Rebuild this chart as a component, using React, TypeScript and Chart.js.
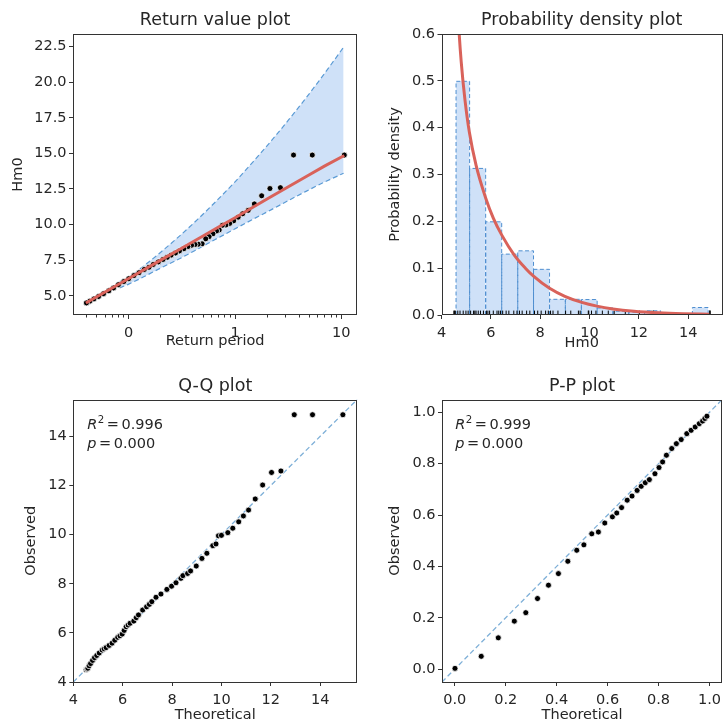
import React, { useEffect, useRef } from 'react';
import { Chart, registerables } from 'chart.js';

Chart.register(...registerables);

const FONT = "'DejaVu Sans', 'Liberation Sans', sans-serif";
const TEXT = '#262626';
const SPINE = '#333333';
const RED = '#d9625a';
const CI_FILL = '#cfe1f8';
const CI_LINE = '#5b9bd5';
const HIST_EDGE = '#4f8fd0';
const DIAG = '#7fb0d8';

// ---------- Return value plot ----------
const rvPointT = [10.66, 5.33, 3.55, 2.67, 2.13, 1.78, 1.52, 1.33, 1.18, 1.07, 0.97, 0.89, 0.82, 0.76, 0.71, 0.67, 0.62, 0.57, 0.53, 0.49, 0.45, 0.42, 0.39, 0.36, 0.33, 0.3, 0.275, 0.25, 0.23, 0.21, 0.19, 0.17, 0.155, 0.14, 0.125, 0.112, 0.1, 0.09, 0.08, 0.072, 0.065, 0.058, 0.052, 0.047, 0.043, 0.04];
const rvPointHm0 = [14.88, 14.88, 14.88, 12.59, 12.53, 12.02, 11.45, 11.0, 10.76, 10.52, 10.26, 10.08, 9.97, 9.95, 9.62, 9.55, 9.35, 9.15, 9.0, 8.65, 8.62, 8.6, 8.55, 8.45, 8.3, 8.15, 8.0, 7.85, 7.7, 7.55, 7.38, 7.2, 7.0, 6.85, 6.62, 6.42, 6.2, 6.0, 5.78, 5.55, 5.35, 5.15, 4.95, 4.78, 4.62, 4.5];
const rvFitT = [0.0395, 0.06, 0.1, 0.2, 0.3, 0.5, 0.7, 1.0, 1.5, 2.0, 3.0, 5.0, 7.0, 10.66];
const rvFitHm0 = [4.49, 5.27, 6.21, 7.5, 8.25, 9.2, 9.83, 10.48, 11.25, 11.8, 12.55, 13.5, 14.12, 14.85];
const rvCiT = [0.082, 0.1, 0.14, 0.2, 0.3, 0.45, 0.65, 1.0, 1.5, 2.2, 3.2, 4.7, 7.0, 10.5];
const rvCiUpper = [6.0, 6.3, 7.12, 8.06, 9.19, 10.4, 11.57, 13.0, 14.46, 15.89, 17.36, 18.93, 20.64, 22.45];
const rvCiLower = [5.55, 5.82, 6.35, 6.95, 7.6, 8.3, 8.95, 9.7, 10.4, 11.05, 11.7, 12.35, 13.0, 13.6];
const rvMajorTicks = [0.1, 1, 10];
const rvMajorLabels = ['0', '1', '10'];
const rvMinorTicks = [0.04, 0.05, 0.06, 0.07, 0.08, 0.09, 0.2, 0.3, 0.4, 0.5, 0.6, 0.7, 0.8, 0.9, 2, 3, 4, 5, 6, 7, 8, 9];
const rvYTicks = [5, 7.5, 10, 12.5, 15, 17.5, 20, 22.5];

// ---------- Probability density plot ----------
const histEdges = [4.59, 5.14, 5.79, 6.44, 7.09, 7.73, 8.38, 9.02, 9.67, 10.31, 10.95, 11.59, 12.23, 12.88, 13.52, 14.17, 14.81];
const histDensity = [0.499, 0.313, 0.199, 0.13, 0.137, 0.0975, 0.0335, 0.0335, 0.033, 0.015, 0.008, 0.006, 0.009, 0, 0, 0.016];
const pdfX = [4.55, 4.62, 4.7, 4.8, 4.95, 5.13, 5.4, 5.79, 6.1, 6.45, 6.95, 7.4, 7.73, 8.38, 9.0, 9.69, 10.3, 10.95, 11.8, 12.8, 13.8, 14.85];
const pdfY = [0.8, 0.7, 0.615, 0.54, 0.46, 0.39, 0.32, 0.25, 0.207, 0.17, 0.128, 0.1, 0.083, 0.057, 0.04, 0.027, 0.019, 0.013, 0.008, 0.0046, 0.0027, 0.0016];
const pdfXTicks = [4, 6, 8, 10, 12, 14];
const pdfYTicks = [0, 0.1, 0.2, 0.3, 0.4, 0.5, 0.6];

// ---------- Q-Q plot ----------
const qqTheoretical = [4.52, 4.56, 4.59, 4.64, 4.7, 4.78, 4.86, 4.95, 5.05, 5.17, 5.25, 5.33, 5.45, 5.57, 5.68, 5.8, 5.89, 5.98, 6.06, 6.14, 6.22, 6.3, 6.45, 6.55, 6.64, 6.81, 6.97, 7.08, 7.18, 7.35, 7.55, 7.79, 7.98, 8.16, 8.36, 8.44, 8.63, 8.75, 8.98, 9.21, 9.41, 9.65, 9.78, 9.88, 10.0, 10.26, 10.46, 10.7, 10.89, 11.1, 11.37, 11.67, 12.03, 12.41, 12.95, 13.69, 14.92];
const qqObserved = [4.5, 4.53, 4.56, 4.66, 4.75, 4.88, 4.99, 5.08, 5.18, 5.3, 5.35, 5.4, 5.49, 5.58, 5.7, 5.82, 5.88, 5.95, 6.1, 6.25, 6.32, 6.39, 6.48, 6.62, 6.73, 6.93, 7.06, 7.16, 7.27, 7.45, 7.58, 7.77, 7.9, 8.04, 8.22, 8.33, 8.42, 8.52, 8.72, 9.03, 9.24, 9.55, 9.62, 9.95, 9.97, 10.08, 10.26, 10.52, 10.76, 11.0, 11.45, 12.02, 12.53, 12.59, 14.88, 14.88, 14.88];
const qqTicks = [4, 6, 8, 10, 12, 14];
const qqR2 = '0.996';
const qqP = '0.000';

// ---------- P-P plot ----------
const ppTheoretical = [0.001, 0.104, 0.171, 0.234, 0.279, 0.325, 0.368, 0.407, 0.444, 0.479, 0.507, 0.538, 0.564, 0.589, 0.619, 0.636, 0.655, 0.677, 0.696, 0.716, 0.732, 0.748, 0.764, 0.786, 0.802, 0.816, 0.831, 0.852, 0.87, 0.889, 0.911, 0.928, 0.944, 0.96, 0.973, 0.982, 0.99];
const ppObserved = [0.003, 0.05, 0.122, 0.187, 0.22, 0.275, 0.327, 0.372, 0.42, 0.463, 0.484, 0.527, 0.534, 0.569, 0.593, 0.608, 0.629, 0.658, 0.674, 0.696, 0.712, 0.726, 0.738, 0.761, 0.785, 0.807, 0.833, 0.859, 0.878, 0.894, 0.917, 0.93, 0.943, 0.956, 0.966, 0.976, 0.985];
const ppTicks = [0, 0.2, 0.4, 0.6, 0.8, 1.0];
const ppR2 = '0.999';
const ppP = '0.000';

const tickFont = { family: FONT, size: 14.5 };
const labelFont = { family: FONT, size: 14.5 };

const framePlugin = {
  id: 'frame',
  afterDatasetsDraw(chart: any) {
    const { ctx, chartArea: a } = chart;
    ctx.save();
    ctx.strokeStyle = SPINE;
    ctx.lineWidth = 1;
    ctx.strokeRect(Math.round(a.left) + 0.5, Math.round(a.top) + 0.5, Math.round(a.right - a.left) - 1, Math.round(a.bottom - a.top) - 1);
    ctx.restore();
  },
};

const statPlugin = {
  id: 'statText',
  afterDatasetsDraw(chart: any, _args: any, opts: any) {
    if (!opts || !opts.r2) return;
    const { ctx, chartArea: a } = chart;
    const x0 = a.left + opts.dx;
    const y1 = a.top + opts.dy1;
    const y2 = a.top + opts.dy2;
    const big = `14.5px ${FONT}`;
    const ital = `italic 14.5px ${FONT}`;
    ctx.save();
    ctx.fillStyle = TEXT;
    ctx.textBaseline = 'alphabetic';
    ctx.textAlign = 'left';
    ctx.font = ital;
    ctx.fillText('R', x0, y1);
    let x = x0 + ctx.measureText('R').width + 0.5;
    ctx.font = `10.2px ${FONT}`;
    ctx.fillText('2', x, y1 - 6);
    x += ctx.measureText('2').width + 2.5;
    ctx.font = big;
    ctx.fillText('=', x, y1);
    x += ctx.measureText('=').width + 2.5;
    ctx.fillText(opts.r2, x, y1);
    ctx.font = ital;
    ctx.fillText('p', x0, y2);
    x = x0 + ctx.measureText('p').width + 2.5;
    ctx.font = big;
    ctx.fillText('=', x, y2);
    x += ctx.measureText('=').width + 2.5;
    ctx.fillText(opts.p, x, y2);
    ctx.restore();
  },
};

function xAxis(c: any) {
  return {
    type: c.type || 'linear',
    position: 'bottom',
    min: c.min,
    max: c.max,
    afterBuildTicks: (s: any) => {
      s.ticks = c.ticks.map((v: number) => ({ value: v }));
    },
    afterFit: (s: any) => {
      s.height = c.height;
      s.paddingLeft = 0;
      s.paddingRight = 0;
    },
    grid: {
      drawOnChartArea: false,
      drawTicks: true,
      tickLength: 4,
      tickColor: SPINE,
      tickWidth: 1,
      tickBorderDash: c.tickDash || [],
    },
    border: { display: false },
    ticks: {
      font: tickFont,
      color: TEXT,
      padding: 6,
      autoSkip: false,
      maxRotation: 0,
      minRotation: 0,
      callback: (v: number) => c.label(v),
    },
    title: { display: true, text: c.title, font: labelFont, color: TEXT, padding: { top: 0, bottom: c.titlePad } },
  };
}

function yAxis(c: any) {
  return {
    type: 'linear',
    position: 'left',
    min: c.min,
    max: c.max,
    afterBuildTicks: (s: any) => {
      s.ticks = c.ticks.map((v: number) => ({ value: v }));
    },
    afterFit: (s: any) => {
      s.width = c.width;
      s.paddingTop = 0;
      s.paddingBottom = 0;
    },
    grid: { drawOnChartArea: false, drawTicks: true, tickLength: 4, tickColor: SPINE, tickWidth: 1 },
    border: { display: false },
    ticks: {
      font: tickFont,
      color: TEXT,
      padding: 2.5,
      autoSkip: false,
      callback: (v: number) => c.label(v),
    },
    title: { display: true, text: c.title, font: labelFont, color: TEXT, padding: { top: c.titlePad, bottom: 0 } },
  };
}

function baseOptions(title: string, titlePad: { top: number; bottom: number }, padRight: number, scales: any, stat?: any) {
  return {
    responsive: false,
    animation: false,
    events: [],
    layout: { padding: { left: 0, top: 0, right: padRight, bottom: 0 } },
    plugins: {
      legend: { display: false },
      tooltip: { enabled: false },
      filler: { propagate: false, drawTime: 'beforeDatasetsDraw' },
      title: {
        display: true,
        text: title,
        fullSize: false,
        color: TEXT,
        font: { family: FONT, size: 17.5, weight: 'normal' },
        padding: titlePad,
      },
      statText: stat || {},
    },
    scales,
  };
}

const dotStyle = {
  pointRadius: 3,
  pointBackgroundColor: '#000000',
  pointBorderColor: '#ffffff',
  pointBorderWidth: 0.8,
};

function buildReturnChart(): any {
  const isMajor = (v: number) => rvMajorTicks.some((m) => Math.abs(m - v) < 1e-9);
  return {
    type: 'scatter',
    data: {
      datasets: [
        {
          type: 'line',
          data: rvFitT.map((t, i) => ({ x: t, y: rvFitHm0[i] })),
          borderColor: RED,
          borderWidth: 3,
          pointRadius: 0,
          tension: 0,
          fill: false,
          order: 0,
        },
        {
          type: 'scatter',
          data: rvPointT.map((t, i) => ({ x: t, y: rvPointHm0[i] })),
          ...dotStyle,
          order: 1,
        },
        {
          type: 'line',
          data: rvCiT.map((t, i) => ({ x: t, y: rvCiUpper[i] })),
          borderColor: CI_LINE,
          borderWidth: 1.2,
          borderDash: [5, 3],
          pointRadius: 0,
          cubicInterpolationMode: 'monotone',
          fill: '+1',
          backgroundColor: CI_FILL,
          order: 2,
        },
        {
          type: 'line',
          data: rvCiT.map((t, i) => ({ x: t, y: rvCiLower[i] })),
          borderColor: CI_LINE,
          borderWidth: 1.2,
          borderDash: [5, 3],
          pointRadius: 0,
          cubicInterpolationMode: 'monotone',
          fill: false,
          order: 3,
        },
      ],
    },
    options: baseOptions('Return value plot', { top: 9.5, bottom: 3.5 }, 4, {
      x: xAxis({
        type: 'logarithmic',
        min: 0.0299,
        max: 14.1,
        ticks: [...rvMinorTicks, ...rvMajorTicks].sort((a, b) => a - b),
        label: (v: number) => {
          const i = rvMajorTicks.findIndex((m) => Math.abs(m - v) < 1e-9);
          return i >= 0 ? rvMajorLabels[i] : '';
        },
        tickDash: (ctx: any) => (ctx.tick && isMajor(ctx.tick.value) ? [] : [2.5, 20]),
        title: 'Return period',
        titlePad: 12.6,
        height: 48,
      }),
      y: yAxis({
        min: 3.65,
        max: 23.38,
        ticks: rvYTicks,
        label: (v: number) => v.toFixed(1),
        title: 'Hm0',
        titlePad: 9.3,
        width: 73,
      }),
    }),
    plugins: [framePlugin],
  };
}

function buildPdfChart(): any {
  const bars = histDensity
    .map((h, i) => ({ h, i }))
    .filter((b) => b.h > 0)
    .map(({ h, i }) => ({
      type: 'line',
      data: [
        { x: histEdges[i], y: 0 },
        { x: histEdges[i], y: h },
        { x: histEdges[i + 1], y: h },
        { x: histEdges[i + 1], y: 0 },
      ],
      borderColor: HIST_EDGE,
      borderWidth: 1,
      borderDash: [4, 2.5],
      backgroundColor: CI_FILL,
      fill: 'origin',
      pointRadius: 0,
      tension: 0,
      order: 5 + i,
    }));
  return {
    type: 'scatter',
    data: {
      datasets: [
        {
          type: 'line',
          data: pdfX.map((x, i) => ({ x, y: pdfY[i] })),
          borderColor: RED,
          borderWidth: 3,
          pointRadius: 0,
          cubicInterpolationMode: 'monotone',
          fill: false,
          order: 0,
        },
        {
          type: 'scatter',
          data: qqObserved.map((v) => ({ x: v, y: 0.0047 })),
          pointStyle: 'line',
          rotation: 90,
          pointRadius: 2.2,
          pointBorderColor: '#000000',
          pointBorderWidth: 1,
          order: 1,
        },
        ...bars,
      ],
    },
    options: baseOptions('Probability density plot', { top: 9.5, bottom: 3.5 }, 0, {
      x: xAxis({
        min: 4,
        max: 15.37,
        ticks: pdfXTicks,
        label: (v: number) => String(v),
        title: 'Hm0',
        titlePad: 11,
        height: 48,
      }),
      y: yAxis({
        min: 0,
        max: 0.6,
        ticks: pdfYTicks,
        label: (v: number) => v.toFixed(1),
        title: 'Probability density',
        titlePad: 24.6,
        width: 79.5,
      }),
    }),
    plugins: [framePlugin],
  };
}

function buildQqChart(): any {
  return {
    type: 'scatter',
    data: {
      datasets: [
        {
          type: 'scatter',
          data: qqTheoretical.map((x, i) => ({ x, y: qqObserved[i] })),
          ...dotStyle,
          order: 0,
        },
        {
          type: 'line',
          data: [
            { x: 4, y: 4 },
            { x: 16, y: 16 },
          ],
          borderColor: DIAG,
          borderWidth: 1.3,
          borderDash: [5, 3],
          pointRadius: 0,
          fill: false,
          order: 1,
        },
      ],
    },
    options: baseOptions(
      'Q-Q plot',
      { top: 12.8, bottom: 2.7 },
      3.7,
      {
        x: xAxis({
          min: 4,
          max: 15.5,
          ticks: qqTicks,
          label: (v: number) => String(v),
          title: 'Theoretical',
          titlePad: 2.3,
          height: 44,
        }),
        y: yAxis({
          min: 4,
          max: 15.5,
          ticks: qqTicks,
          label: (v: number) => String(v),
          title: 'Observed',
          titlePad: 23,
          width: 73.3,
        }),
      },
      { r2: qqR2, p: qqP, dx: 14, dy1: 29, dy2: 48 }
    ),
    plugins: [framePlugin, statPlugin],
  };
}

function buildPpChart(): any {
  return {
    type: 'scatter',
    data: {
      datasets: [
        {
          type: 'scatter',
          data: ppTheoretical.map((x, i) => ({ x, y: ppObserved[i] })),
          ...dotStyle,
          order: 0,
        },
        {
          type: 'line',
          data: [
            { x: -0.05, y: -0.05 },
            { x: 1.1, y: 1.1 },
          ],
          borderColor: DIAG,
          borderWidth: 1.3,
          borderDash: [5, 3],
          pointRadius: 0,
          fill: false,
          order: 1,
        },
      ],
    },
    options: baseOptions(
      'P-P plot',
      { top: 12.8, bottom: 2.7 },
      0,
      {
        x: xAxis({
          min: -0.05,
          max: 1.05,
          ticks: ppTicks,
          label: (v: number) => v.toFixed(1),
          title: 'Theoretical',
          titlePad: 2.3,
          height: 44,
        }),
        y: yAxis({
          min: -0.05,
          max: 1.05,
          ticks: ppTicks,
          label: (v: number) => v.toFixed(1),
          title: 'Observed',
          titlePad: 24.6,
          width: 80,
        }),
      },
      { r2: ppR2, p: ppP, dx: 13.3, dy1: 29, dy2: 48 }
    ),
    plugins: [framePlugin, statPlugin],
  };
}

function Panel(props: { left: number; top: number; width: number; height: number; build: () => any }) {
  const ref = useRef<HTMLCanvasElement>(null);
  useEffect(() => {
    if (!ref.current) return;
    const chart = new Chart(ref.current, props.build());
    return () => chart.destroy();
  }, []);
  return (
    <canvas
      ref={ref}
      width={props.width}
      height={props.height}
      style={{ position: 'absolute', left: props.left, top: props.top, width: props.width, height: props.height }}
    />
  );
}

export default function App() {
  return (
    <div
      style={{
        position: 'fixed',
        left: 0,
        top: 0,
        width: 723,
        height: 726,
        overflow: 'hidden',
        background: '#ffffff',
      }}
    >
      <Panel left={0} top={0} width={362} height={363} build={buildReturnChart} />
      <Panel left={362} top={0} width={365} height={363} build={buildPdfChart} />
      <Panel left={0} top={363} width={362} height={363} build={buildQqChart} />
      <Panel left={362} top={363} width={365} height={363} build={buildPpChart} />
    </div>
  );
}
